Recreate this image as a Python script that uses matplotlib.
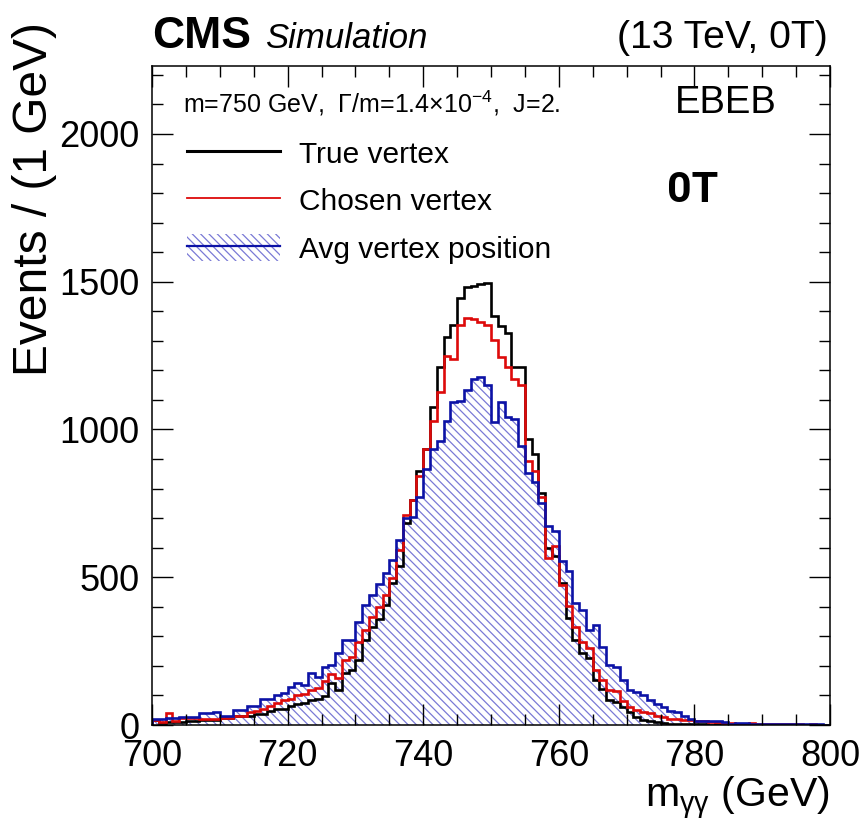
import numpy as np
import matplotlib
matplotlib.use("Agg")
import matplotlib.pyplot as plt
from matplotlib.patches import Patch
from matplotlib.lines import Line2D
from matplotlib.ticker import MultipleLocator

plt.rcParams['font.family'] = ['Liberation Sans', 'DejaVu Sans']
plt.rcParams['mathtext.fontset'] = 'custom'
plt.rcParams['mathtext.rm'] = 'Liberation Sans'
plt.rcParams['mathtext.it'] = 'Liberation Sans:italic'
plt.rcParams['hatch.linewidth'] = 0.9

# m_gg bins, 1 GeV wide, 700 -> 800
edges = np.arange(700, 801)

# True vertex
true_vtx = [18, 8, 10, 10, 10, 15, 15, 18, 18, 18,
            24, 24, 30, 30, 30, 36, 36, 47, 55, 55,
            63, 72, 75, 83, 89, 97, 141, 117, 175, 185,
            219, 287, 330, 360, 406, 481, 539, 684, 763, 860,
            934, 1075, 1212, 1314, 1353, 1444, 1482, 1487, 1492, 1495,
            1383, 1349, 1325, 1213, 1213, 968, 917, 786, 599, 571,
            480, 361, 287, 242, 226, 151, 123, 83, 78, 60,
            44, 28, 18, 14, 10, 6, 5, 3, 3, 3,
            2, 2, 1, 2, 1, 1, 2, 1, 1, 1,
            1, 0, 1, 1, 0, 1, 0, 1, 0, 0]

# Chosen vertex
chosen_vtx = [18, 10, 40, 15, 24, 24, 24, 21, 21, 21,
              24, 24, 32, 32, 44, 47, 55, 63, 74, 83,
              89, 100, 104, 117, 125, 150, 174, 160, 220, 230,
              280, 320, 365, 400, 440, 498, 593, 712, 763, 843,
              934, 1030, 1128, 1247, 1240, 1353, 1378, 1373, 1365, 1353,
              1302, 1246, 1212, 1172, 1149, 894, 860, 770, 565, 605,
              474, 401, 333, 282, 259, 185, 151, 120, 115, 80,
              62, 52, 45, 40, 32, 26, 21, 21, 18, 18,
              14, 12, 10, 10, 8, 6, 5, 4, 6, 4,
              3, 5, 2, 3, 4, 2, 1, 2, 1, 1]

# Avg vertex position
avg_vtx = [21, 21, 24, 24, 27, 27, 27, 40, 40, 44,
           32, 32, 52, 52, 63, 63, 89, 89, 100, 108,
           129, 141, 135, 176, 162, 197, 202, 245, 287, 287,
           350, 405, 440, 478, 516, 560, 625, 700, 705, 770,
           866, 934, 962, 1030, 1093, 1098, 1132, 1172, 1178, 1151,
           1024, 1094, 1041, 1036, 945, 854, 822, 752, 673, 656,
           554, 520, 412, 389, 321, 338, 265, 202, 197, 151,
           117, 112, 100, 83, 72, 60, 49, 44, 32, 21,
           15, 15, 12, 12, 10, 5, 8, 6, 5, 4,
           5, 4, 3, 4, 3, 3, 2, 2, 2, 1]

W, H = 865, 821


def px(x, y):
    return x / W, 1 - y / H


fig = plt.figure(figsize=(W / 100, H / 100), dpi=100)
ax = fig.add_axes([152 / W, 1 - 725 / H, (830 - 152) / W, (725 - 66) / H])

blue = '#0c12a6'
red = '#dd0a0a'
hatch_col = '#7a7ad6'

ax.stairs(avg_vtx, edges, fill=True, facecolor='none', edgecolor=hatch_col,
          hatch='\\\\\\\\', linewidth=0)
ax.stairs(true_vtx, edges, color='black', linewidth=1.9)
ax.stairs(chosen_vtx, edges, color=red, linewidth=1.9)
ax.stairs(avg_vtx, edges, color=blue, linewidth=1.9)

ax.set_xlim(700, 800)
ax.set_ylim(0, 2230)
ax.xaxis.set_major_locator(MultipleLocator(20))
ax.xaxis.set_minor_locator(MultipleLocator(5))
ax.yaxis.set_major_locator(MultipleLocator(500))
ax.yaxis.set_minor_locator(MultipleLocator(100))
ax.tick_params(which='both', direction='in', top=True, right=True, width=1.0)
ax.tick_params(which='major', length=15, labelsize=26, pad=9)
ax.tick_params(axis='x', which='major', pad=10)
ax.tick_params(which='minor', length=8)
for s in ax.spines.values():
    s.set_linewidth(1.1)

# legend
h_true = Line2D([], [], color='black', linewidth=2.2)
h_chosen = Line2D([], [], color=red, linewidth=1.3)
h_avg = (Patch(facecolor='none', edgecolor=hatch_col, hatch='\\\\\\\\', linewidth=0),
         Line2D([], [], color=blue, linewidth=1.6))
ax.legend([h_true, h_chosen, h_avg],
          ['True vertex', 'Chosen vertex', 'Avg vertex position'],
          loc='upper left', bbox_to_anchor=(0.052, 0.889), frameon=False,
          fontsize=21.5, handlelength=3.1, handleheight=1.0,
          handletextpad=0.65, labelspacing=0.6, borderpad=0, borderaxespad=0)

fig.text(*px(183, 103), r'm=750 GeV,  $\Gamma$/m=1.4$\times$10$^{\mathregular{-4}}$,  J=2.',
         fontsize=18, ha='left', va='center')
fig.text(*px(777, 103), 'EBEB', fontsize=27.5, ha='right', va='center')
fig.text(*px(693, 190), '0T', fontsize=31, fontweight='bold', ha='center', va='center',
         family='Roboto')

fig.text(*px(152, 48), 'CMS', fontsize=32, fontweight='bold', ha='left', va='baseline')
fig.text(*px(265, 48), 'Simulation', fontsize=25, style='italic', ha='left', va='baseline')
fig.text(*px(828, 48), '(13 TeV, 0T)', fontsize=28.2, ha='right', va='baseline')

fig.text(*px(35, 22), 'Events / (1 GeV)', fontsize=34.5, rotation=90,
         ha='center', va='top')
fig.text(*px(830, 807), r'm$_{\mathrm{γγ}}$ (GeV)', fontsize=29.5, ha='right',
         va='baseline')

fig.savefig('out.png', dpi=100)
